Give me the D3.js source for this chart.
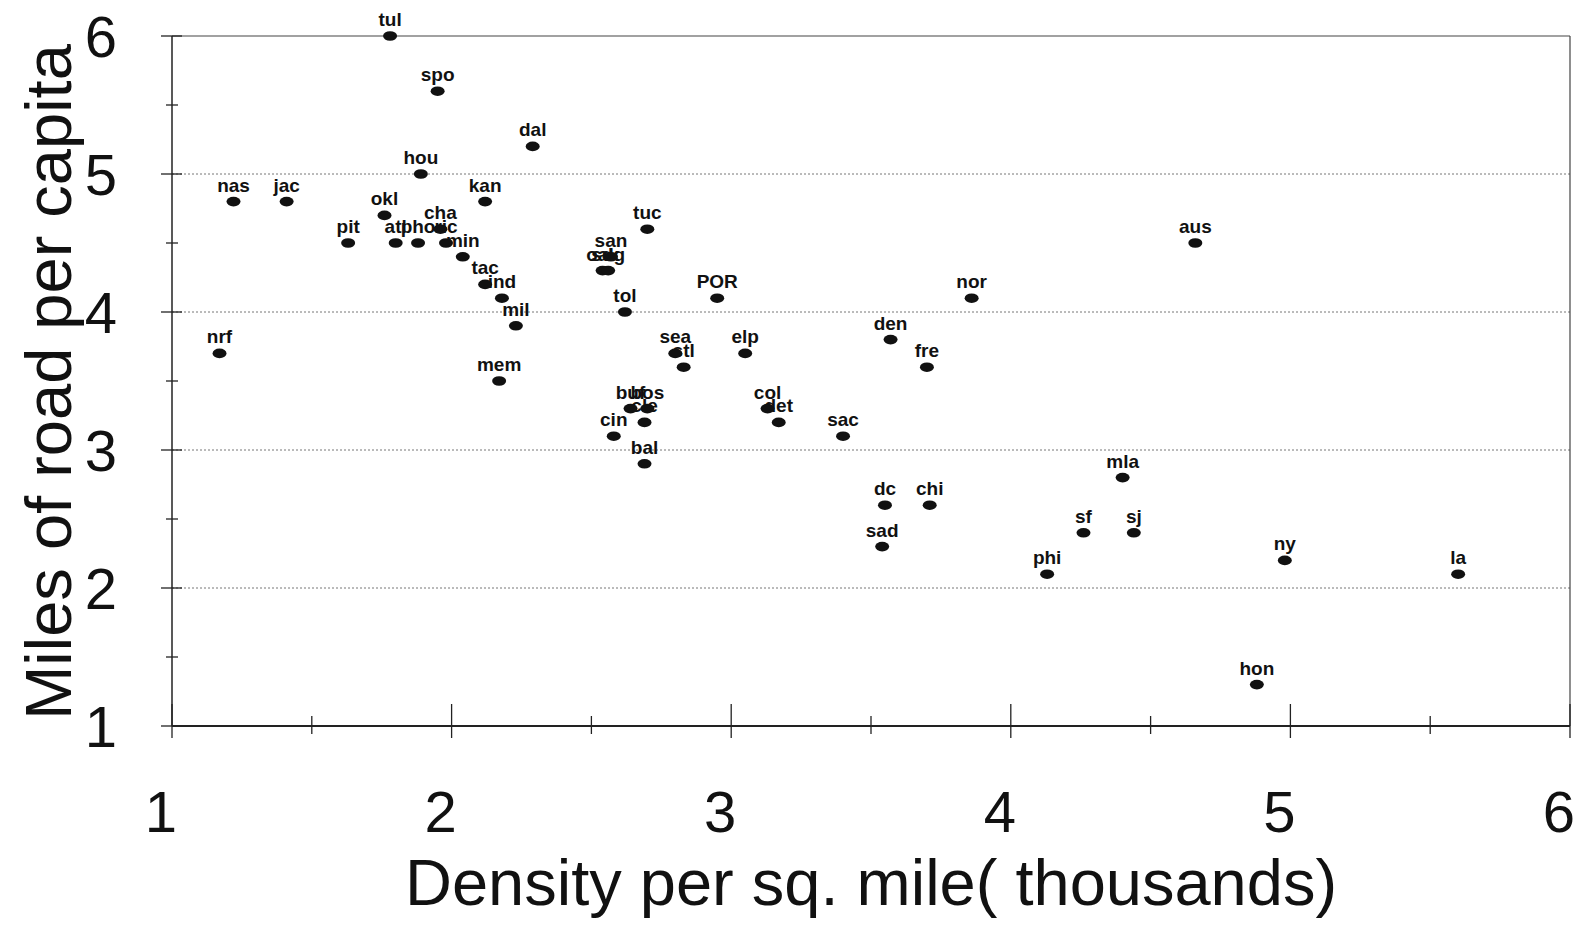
<!DOCTYPE html>
<html><head><meta charset="utf-8">
<script src="https://cdn.jsdelivr.net/npm/d3@7"></script>
<style>body{margin:0;background:#fff}svg{display:block}</style>
</head><body><svg id="c" width="1587" height="925"></svg>
<script>
const cities  = ["tul","spo","dal","hou","nas","jac","kan","okl","cha","pit","atl","pho","ric","min","tac","ind","mil","mem","nrf","tuc","san","oak","sdg","tol","POR","sea","stl","elp","buf","bos","cle","cin","bal","col","det","sac","den","fre","nor","aus","dc","chi","sad","mla","sf","sj","phi","ny","la","hon"];
const density = [1.78,1.95,2.29,1.89,1.22,1.41,2.12,1.76,1.96,1.63,1.80,1.88,1.98,2.04,2.12,2.18,2.23,2.17,1.17,2.70,2.57,2.54,2.56,2.62,2.95,2.80,2.83,3.05,2.64,2.70,2.69,2.58,2.69,3.13,3.17,3.40,3.57,3.70,3.86,4.66,3.55,3.71,3.54,4.40,4.26,4.44,4.13,4.98,5.60,4.88];
const roads   = [6.0,5.6,5.2,5.0,4.8,4.8,4.8,4.7,4.6,4.5,4.5,4.5,4.5,4.4,4.2,4.1,3.9,3.5,3.7,4.6,4.4,4.3,4.3,4.0,4.1,3.7,3.6,3.7,3.3,3.3,3.2,3.1,2.9,3.3,3.2,3.1,3.8,3.6,4.1,4.5,2.6,2.6,2.3,2.8,2.4,2.4,2.1,2.2,2.1,1.3];
const xTicks = [1,2,3,4,5,6];
const yTicks = [1,2,3,4,5,6];
const xTitle = "Density per sq. mile( thousands)";
const yTitle = "Miles of road per capita";

const svg = d3.select("#c");
const font = "'Liberation Sans', Arial, sans-serif";
const x = d3.scaleLinear().domain([1,6]).range([172,1570]);
const y = d3.scaleLinear().domain([1,6]).range([726,36]);

// gridlines
svg.append("g").selectAll("line").data([2,3,4,5]).join("line")
  .attr("x1",x(1)).attr("x2",x(6)).attr("y1",d=>y(d)).attr("y2",d=>y(d))
  .attr("stroke","#777").attr("stroke-width",1).attr("stroke-dasharray","2,2");
// top and right border
svg.append("line").attr("x1",x(1)).attr("x2",x(6)).attr("y1",y(6)).attr("y2",y(6)).attr("stroke","#444").attr("stroke-width",1.2);
svg.append("line").attr("x1",x(6)).attr("x2",x(6)).attr("y1",y(6)).attr("y2",y(1)).attr("stroke","#444").attr("stroke-width",1.2);

// axes lines
svg.append("line").attr("x1",x(1)).attr("x2",x(6)).attr("y1",y(1)).attr("y2",y(1)).attr("stroke","#222").attr("stroke-width",1.8);
svg.append("line").attr("x1",x(1)).attr("x2",x(1)).attr("y1",y(6)).attr("y2",y(1)).attr("stroke","#222").attr("stroke-width",1.5);

const halfTicks = d3.range(1,6.01,0.5);
svg.append("g").selectAll("line").data(halfTicks).join("line")
  .attr("x1",d=>x(d)).attr("x2",d=>x(d))
  .attr("y1",d=>y(1)+(Number.isInteger(d)?-22:-10))
  .attr("y2",d=>y(1)+(Number.isInteger(d)?12:8))
  .attr("stroke","#222").attr("stroke-width",1.3);
svg.append("g").selectAll("line").data(halfTicks).join("line")
  .attr("y1",d=>y(d)).attr("y2",d=>y(d))
  .attr("x1",d=>x(1)+(Number.isInteger(d)?-11:-6))
  .attr("x2",d=>x(1)+(Number.isInteger(d)?10:6))
  .attr("stroke","#222").attr("stroke-width",1.3);

// tick labels
svg.append("g").selectAll("text").data(xTicks).join("text")
  .attr("x",d=>x(d)-11).attr("y",832).attr("text-anchor","middle")
  .attr("font-family",font).attr("font-size",58).attr("fill","#111").text(d=>d);
svg.append("g").selectAll("text").data(yTicks).join("text")
  .attr("x",101).attr("y",d=>y(d)+21).attr("text-anchor","middle")
  .attr("font-family",font).attr("font-size",58).attr("fill","#111").text(d=>d);

// titles
svg.append("text").attr("x",871).attr("y",905).attr("text-anchor","middle")
  .attr("font-family",font).attr("font-size",65).attr("fill","#111").text(xTitle);
svg.append("text").attr("transform","translate(71,382) rotate(-90)").attr("text-anchor","middle")
  .attr("font-family",font).attr("font-size",65).attr("fill","#111").text(yTitle);

// points
const data = cities.map((c,i)=>({c, d:density[i], r:roads[i]}));
svg.append("g").selectAll("ellipse").data(data).join("ellipse")
  .attr("cx",p=>x(p.d)).attr("cy",p=>y(p.r)).attr("rx",7).attr("ry",4.8).attr("fill","#111");
svg.append("g").selectAll("text").data(data).join("text")
  .attr("x",p=>x(p.d)).attr("y",p=>y(p.r)-10).attr("text-anchor","middle")
  .attr("font-family",font).attr("font-weight","bold").attr("font-size",19).attr("fill","#111").text(p=>p.c);
</script></body></html>
